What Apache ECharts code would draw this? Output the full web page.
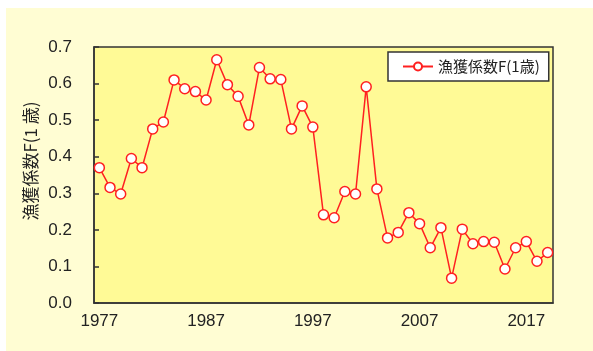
<!DOCTYPE html>
<html><head><meta charset="utf-8">
<script src="https://cdn.jsdelivr.net/npm/echarts@6/dist/echarts.min.js"></script>
<style>html,body{margin:0;padding:0;background:#fff}#c{width:593px;height:351px}</style>
</head><body><div id="c"></div>
<script>
const years = [];
for (let y = 1977; y <= 2019; y++) years.push(String(y));
const seriesName = '漁獲係数F(1歳)';
const axisTitle = '漁獲係数F(1 歳)';
const fValues = [0.370,0.316,0.298,0.395,0.370,0.476,0.495,0.610,0.586,0.578,
  0.555,0.665,0.597,0.565,0.487,0.644,0.613,0.611,0.476,0.539,
  0.481,0.241,0.233,0.305,0.298,0.591,0.312,0.178,0.193,0.247,
  0.217,0.151,0.206,0.068,0.202,0.162,0.168,0.166,0.093,0.151,
  0.168,0.114,0.138];
const yTicks = [0,0.1,0.2,0.3,0.4,0.5,0.6,0.7];

const numFont = '"Liberation Sans Narrow", "Liberation Sans", Arial, sans-serif';
const cjkFont = '"Noto Sans CJK JP", "Noto Sans", sans-serif';
const chart = echarts.init(document.getElementById('c'));
chart.setOption({
  animation: false,
  backgroundColor: '#ffffff',
  graphic: [
    {type:'rect', z:-10, shape:{x:6,y:8,width:587,height:343}, style:{fill:'#FFFDD3'}},
    {type:'text', z:10, x:31, y:161, rotation:Math.PI/2,
     style:{text:axisTitle, fill:'#222', font:'17px ' + cjkFont, align:'center', verticalAlign:'middle'}}
  ],
  grid: {left:94, right:40, top:47, bottom:48, show:true, backgroundColor:'#FFFA96', borderColor:'#333', borderWidth:1.5},
  legend: {
    left: 388, top: 52,
    backgroundColor:'#ffffff', borderColor:'#333', borderWidth:1.5,
    padding:[7,9,7,14],
    itemWidth:30, itemHeight:10, itemGap:5,
    textStyle:{fontFamily:cjkFont, fontSize:15, color:'#222'},
    data:[seriesName]
  },
  xAxis: {
    type:'category', data:years, boundaryGap:true,
    axisLine:{lineStyle:{color:'#333', width:1.5}},
    axisTick:{inside:true, length:6, interval:4, lineStyle:{color:'#333', width:1.5}},
    axisLabel:{interval:9, margin:10, color:'#222', fontFamily:numFont, fontSize:17}
  },
  yAxis: {
    type:'value', min:0, max:0.7, interval:0.1,
    axisLine:{show:true, lineStyle:{color:'#333', width:1.5}},
    axisTick:{show:true, inside:true, length:5, lineStyle:{color:'#333', width:1.5}},
    splitLine:{show:false},
    axisLabel:{margin:22, color:'#222', fontFamily:numFont, fontSize:17,
      formatter:function(v){return v.toFixed(1);}}
  },
  series: [{
    name: seriesName, type:'line', data:fValues,
    symbol:'circle', symbolSize:10, showAllSymbol:true,
    lineStyle:{color:'#FF2020', width:1.5},
    itemStyle:{color:'#ffffff', borderColor:'#FF2020', borderWidth:1.5}
  }]
});
</script></body></html>
